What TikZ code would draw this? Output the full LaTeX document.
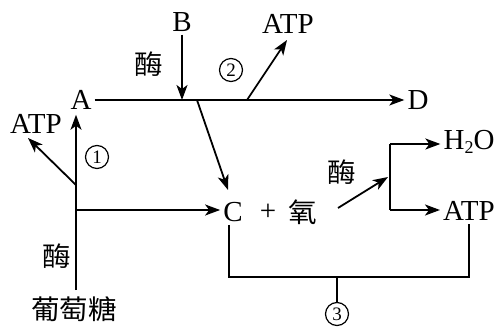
\documentclass[tikz,border=0pt]{standalone}
\usepackage{fontspec}
\setmainfont{Liberation Serif}
\newfontfamily\cjk[FakeStretch=1.06]{Noto Sans CJK SC}
\usetikzlibrary{arrows.meta}
\tikzset{
  arr/.style={line width=1.8pt,-{Stealth[length=15pt,width=11pt,inset=4pt]}},
  ln/.style={line width=1.8pt},
  lbl/.style={inner sep=3pt,font=\fontsize{29}{29}\selectfont},
  zh/.style={inner sep=3pt,font=\cjk\fontsize{27}{27}\selectfont},
  circnum/.style={circle,draw,line width=1.2pt,minimum size=23pt,inner sep=0pt,font=\fontsize{19}{19}\selectfont},
}
\begin{document}
\begin{tikzpicture}[x=1pt,y=-1pt]
\useasboundingbox (0,0) rectangle (499,329);
% labels
\node[lbl] (A) at (81,100) {A};
\node[lbl] (B) at (182,22) {B};
\node[lbl] (D) at (418,100) {D};
\node[lbl] (C) at (233,212) {C};
\node[lbl] (plus) at (268,212) {+};
\node[zh] (oxy) at (303,212) {氧};
\node[lbl] (atpL) at (36,124) {ATP};
\node[lbl] (atpT) at (288,24) {ATP};
\node[lbl] (atpR) at (469,211) {ATP};
\node[lbl] (water) at (469,142) {H\raisebox{-4pt}{\fontsize{18}{18}\selectfont 2}O};
\node[zh] (glu) at (74,309) {葡萄糖};
\node[zh] (enzL) at (57,256) {酶};
\node[zh] (enzB) at (149,64) {酶};
\node[zh] (enzR) at (342,172) {酶};
\node[circnum] (n1) at (97,157) {1};
\node[circnum] (n2) at (231,70) {2};
\node[circnum] (n3) at (337,314) {3};

% junctions and free ends
\coordinate (s0) at (76,290);
\coordinate (s1) at (76,185);
\coordinate (s2) at (76,210);
\coordinate (tL) at (28,138);
\coordinate (jC) at (197,100);
\coordinate (jT) at (247,100);
\coordinate (tC) at (228,190);
\coordinate (tT) at (287,40);
\coordinate (r0) at (338,208);
\coordinate (r1) at (388,177);
\coordinate (rt) at (390,144);
\coordinate (rb) at (390,210);
\coordinate (b0) at (229,277);

% glucose stem
\draw[arr,shorten >=2pt] (s0) -- (s0 |- A.south);
\draw[arr] (s1) -- (tL);
\draw[arr] (s2) -- (s2 -| C.west);

% A to D
\draw[arr] (A.east) -- (D.west);
\draw[arr] (B) -- (B |- A);
\draw[arr] (jC) -- (tC);
\draw[arr] (jT) -- (tT);

% C + oxygen
\draw[arr] (r0) -- (r1);
\draw[ln] (rt) -- (rb);
\draw[arr] (rt) -- (rt -| water.west);
\draw[arr] (rb) -- (rb -| atpR.west);

% bracket 3
\draw[ln] (C.south -| b0) -- (b0) -- (b0 -| atpR.south) -- (atpR.south);
\draw[ln] (b0 -| n3) -- (n3.north);
\end{tikzpicture}
\end{document}
